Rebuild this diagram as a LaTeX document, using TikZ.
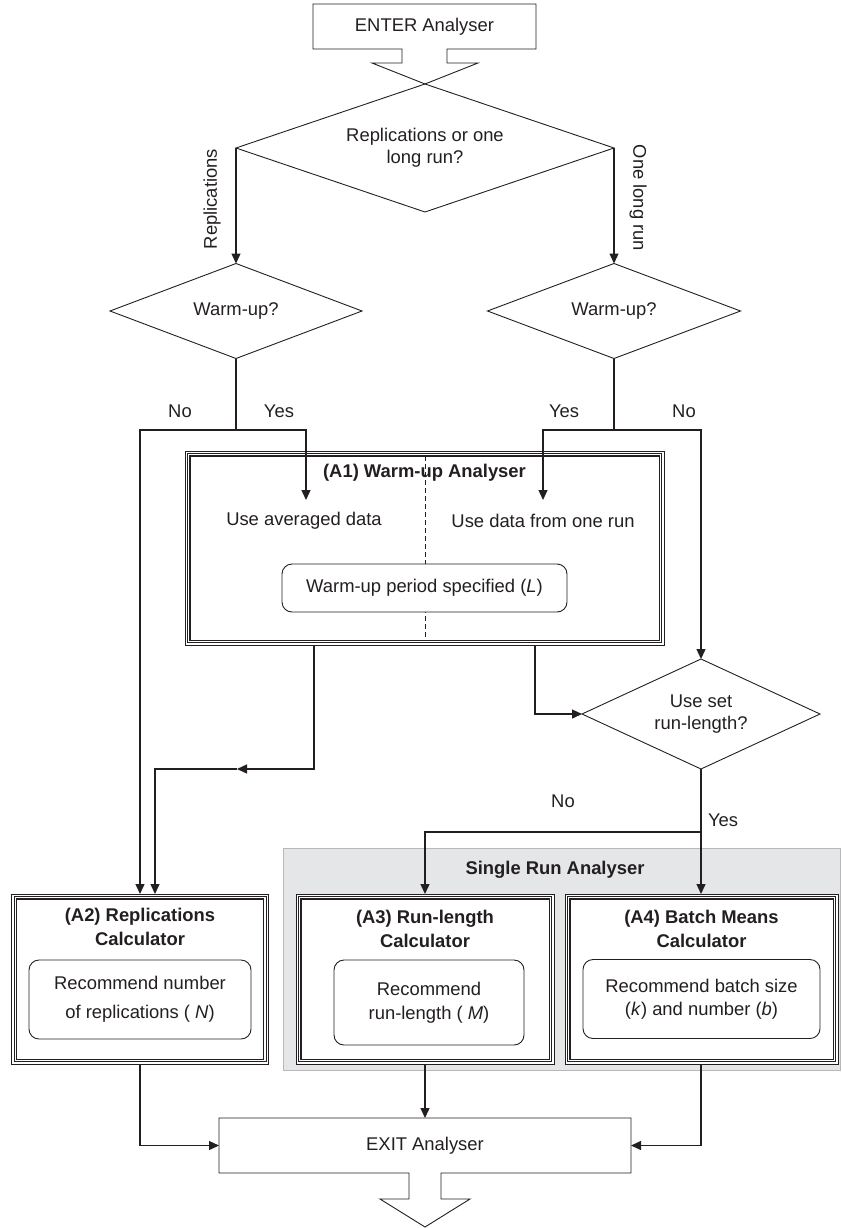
\documentclass[tikz,border=0pt]{standalone}
\usepackage{fontspec}
\setmainfont{Liberation Sans}
\usetikzlibrary{shapes.geometric,arrows.meta,calc}
\definecolor{ink}{HTML}{231F20}
\definecolor{panel}{HTML}{E5E6E7}
\definecolor{panelline}{HTML}{B8B8B8}
\begin{document}
\begin{tikzpicture}[x=1pt,y=-1pt,
  every node/.style={font=\fontsize{18.4}{22}\selectfont, text=ink, inner sep=0pt, outer sep=0pt},
  boldtxt/.style={font=\fontsize{18.4}{23.5}\selectfont\bfseries, align=center},
  plain/.style={align=center},
  dia/.style={draw=ink, line width=0.9pt, shape=diamond, inner sep=0pt, align=center},
  tbox/.style={fill=white},
  rbox/.style={draw=ink, fill=white, line width=0.9pt, rounded corners=10pt, align=center},
  conn/.style={draw=ink, line width=1.3pt},
  arrowc/.style={draw=ink, line width=1.3pt, -{Triangle[length=10pt,width=9pt]}},
  dashline/.style={draw=ink, line width=0.8pt, dash pattern=on 5pt off 3pt}
]
\useasboundingbox (0,0) rectangle (841,1228);

% gray panel
\node[fill=panel, draw=panelline, line width=1pt, minimum width=557pt, minimum height=222pt] (sra) at (561.5,959) {};
\node[boldtxt] (sratitle) at (555,870) {Single Run Analyser};

% ENTER
\node[minimum width=223pt, minimum height=45pt] (enter) at (424.5,26.5) {ENTER Analyser};
% top decision
\node[dia, aspect=2.95, minimum width=378pt, minimum height=128pt] (top) at (425,148) {Replications or one\\long run?};
\draw[ink, line width=0.9pt, line join=miter]
  ($(enter.south)+(-22.5,0)$) -- (enter.south west) -- (enter.north west) -- (enter.north east)
  -- (enter.south east) -- ($(enter.south)+(22.5,0)$) -- ($(enter.south)+(22.5,14)$)
  -- ($(enter.south)+(53.5,14)$) -- (top.north) -- ($(enter.south)+(-52.5,14)$)
  -- ($(enter.south)+(-22.5,14)$) -- cycle;

% warm-up decisions
\node[dia, aspect=2.65, minimum width=252pt, minimum height=95pt] (wl) at (236,311) {Warm-up?};
\node[dia, aspect=2.65, minimum width=253pt, minimum height=95pt] (wr) at (614,311) {Warm-up?};

\node[rotate=90] (lrep) at (212,199) {Replications};
\node[rotate=-90] (lone) at (638,198) {One long run};

% A1
\node[tbox, minimum width=479pt, minimum height=194pt] (a1) at (424.5,548) {};
\draw[dashline] ($(a1.north)+(0.5,5)$) -- ($(a1.south)+(0.5,-5)$);
\node[boldtxt] (a1t) at (424.5,473) {(A1) Warm-up Analyser};
\node[plain] (avg) at (304,521) {Use averaged data};
\node[plain] (one) at (543,521) {Use data from one run};
\node[rbox, minimum width=285pt, minimum height=48pt] (wp) at (424.5,588) {Warm-up period specified (\textit{L})};

% use set run-length
\node[dia, aspect=2.16, minimum width=238pt, minimum height=110pt] (us) at (701,714) {Use set\\run-length?};

% A2 A3 A4
\node[tbox, minimum width=257pt, minimum height=170pt] (a2) at (140,979) {};
\node[tbox, minimum width=258pt, minimum height=170pt] (a3) at (425,979) {};
\node[tbox, minimum width=273pt, minimum height=170pt] (a4) at (701.5,979) {};
\foreach \n in {a1,a2,a3,a4} {
  \draw[ink, line width=0.8pt] (\n.north west) rectangle (\n.south east);
  \draw[ink, line width=0.8pt] ([shift={(2.4,2.4)}]\n.north west) rectangle ([shift={(-2.4,-2.4)}]\n.south east);
  \draw[ink, line width=1.2pt] ([shift={(4.9,4.9)}]\n.north west) rectangle ([shift={(-4.9,-4.9)}]\n.south east);
}

\node[boldtxt] (a2t) at (140,927) {(A2) Replications\\Calculator};
\node[boldtxt] (a3t) at (425,929) {(A3) Run-length\\Calculator};
\node[boldtxt] (a4t) at (701.5,929) {(A4) Batch Means\\Calculator};

\node[rbox, minimum width=222pt, minimum height=79pt, font=\fontsize{18.4}{29}\selectfont] (a2r) at (140,999.5) {Recommend number\\of replications ( \textit{N})};
\node[rbox, minimum width=190pt, minimum height=85pt, font=\fontsize{18.4}{23.5}\selectfont] (a3r) at (429,1002.5) {Recommend\\run-length ( \textit{M})};
\node[rbox, minimum width=237pt, minimum height=79pt, font=\fontsize{18.4}{23.5}\selectfont] (a4r) at (701.5,999) {Recommend batch size\\(\textit{k}) and number (\textit{b})};

% EXIT
\node[minimum width=412pt, minimum height=55pt] (exit) at (425,1145.5) {EXIT Analyser};
\draw[ink, line width=0.9pt, line join=miter]
  ($(exit.south)+(-16,0)$) -- (exit.south west) -- (exit.north west) -- (exit.north east)
  -- (exit.south east) -- ($(exit.south)+(16,0)$) -- ($(exit.south)+(16,26)$)
  -- ($(exit.south)+(45,26)$) -- ($(exit.south)+(0,54)$) -- ($(exit.south)+(-45,26)$)
  -- ($(exit.south)+(-16,26)$) -- cycle;

% labels
\node (no1) at (180,411) {No};
\node (yes1) at (279,411) {Yes};
\node (yes2) at (564,411) {Yes};
\node (no2) at (684,411) {No};
\node (no3) at (563,801) {No};
\node (yes3) at (723,820) {Yes};

% connectors
\coordinate (j1) at (236,430);
\coordinate (j2) at (614,430);
\coordinate (yesL) at (306,500);
\coordinate (yesR) at (543,500);
\coordinate (a1o1) at (314,645);
\coordinate (a1o2) at (535,645);
\coordinate (m1) at (237,769);
\coordinate (j3) at (701,832);

\draw[arrowc] (top.west) -- (wl.north);
\draw[arrowc] (top.east) -- (wr.north);
\draw[conn] (wl.south) -- (j1);
\draw[arrowc] (j1) -| (a2.north);
\draw[arrowc] (j1) -| (yesL);
\draw[conn] (wr.south) -- (j2);
\draw[arrowc] (j2) -| (yesR);
\draw[arrowc] (j2) -| (us.north);
\draw[arrowc] (a1o1) |- (m1);
\draw[arrowc] (m1) -| ($(a2.north)+(15,0)$);
\draw[arrowc] (a1o2) |- (us.west);
\draw[arrowc] (us.south) -- (us.south |- a4.north);
\draw[arrowc] (j3) -| (a3.north);
\draw[arrowc] (a2.south) |- (exit.west);
\draw[arrowc] (a3.south) -- (exit.north);
\draw[arrowc] (us.south |- a4.south) |- (exit.east);
\end{tikzpicture}
\end{document}
